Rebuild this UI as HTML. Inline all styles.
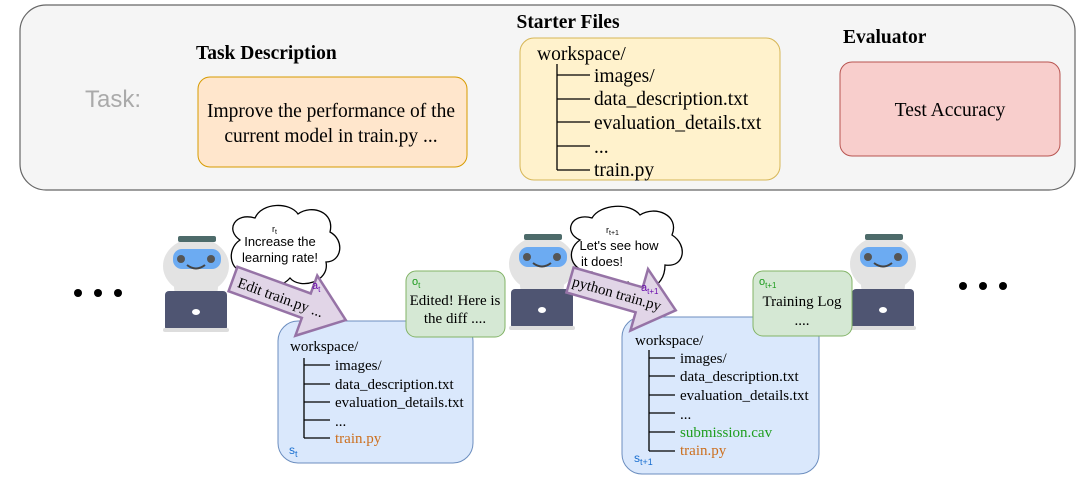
<!DOCTYPE html>
<html><head><meta charset="utf-8"><style>
html,body{margin:0;padding:0;background:#fff;}
svg{display:block;}
.s{font-family:"Liberation Serif",serif;}
.a{font-family:"Liberation Sans",sans-serif;}
</style></head><body>
<svg width="1080" height="479" viewBox="0 0 1080 479" xmlns="http://www.w3.org/2000/svg">
<defs>
<g id="robot">
  <ellipse cx="33" cy="30" rx="33" ry="28" fill="#e3e3e3"/>
  <ellipse cx="33" cy="52" rx="22" ry="14" fill="#e3e3e3"/>
  <rect x="15" y="0" width="38" height="6" rx="2" fill="#4d6b6a"/>
  <rect x="10" y="13" width="48" height="20" rx="9" fill="#6cabf2"/>
  <circle cx="18" cy="23" r="4" fill="#555"/>
  <circle cx="48" cy="23" r="4" fill="#555"/>
  <path d="M24 29 Q33 36 42 29" fill="none" stroke="#444" stroke-width="2"/>
  <rect x="2" y="55" width="62" height="40" rx="4" fill="#4f5572"/>
  <rect x="0" y="92" width="66" height="4" rx="2" fill="#ddd"/>
  <ellipse cx="33" cy="76" rx="4" ry="3" fill="#fff"/>
</g>
</defs>

<!-- Top panel -->
<rect x="20" y="5" width="1055" height="185" rx="26" fill="#f5f5f5" stroke="#666" stroke-width="1.2"/>
<text x="85" y="107" class="a" font-size="24" fill="#aaa">Task:</text>
<text x="196" y="59" class="s" font-size="19.5" font-weight="bold">Task Description</text>
<rect x="198" y="77" width="269" height="90" rx="12" fill="#ffe6cc" stroke="#d79b00"/>
<text x="331" y="117" class="s" font-size="19.5" text-anchor="middle">Improve the performance of the</text>
<text x="331" y="142" class="s" font-size="19.5" text-anchor="middle">current model in train.py ...</text>

<text x="568" y="28" class="s" font-size="19.5" font-weight="bold" text-anchor="middle">Starter Files</text>
<rect x="520" y="38" width="260" height="142" rx="14" fill="#fff2cc" stroke="#d6b656"/>
<g class="s" font-size="19.5">
<text x="537" y="60">workspace/</text>
<text x="594" y="82">images/</text>
<text x="594" y="105">data_description.txt</text>
<text x="594" y="129">evaluation_details.txt</text>
<text x="594" y="153">...</text>
<text x="594" y="176">train.py</text>
</g>
<g stroke="#000" stroke-width="1.3">
<line x1="557" y1="64" x2="557" y2="170"/>
<line x1="557" y1="75" x2="590" y2="75"/>
<line x1="557" y1="99" x2="590" y2="99"/>
<line x1="557" y1="122" x2="590" y2="122"/>
<line x1="557" y1="146" x2="590" y2="146"/>
<line x1="557" y1="170" x2="590" y2="170"/>
</g>

<text x="843" y="43" class="s" font-size="19.5" font-weight="bold">Evaluator</text>
<rect x="840" y="62" width="220" height="94" rx="12" fill="#f8cecc" stroke="#b85450"/>
<text x="950" y="116" class="s" font-size="19.5" text-anchor="middle">Test Accuracy</text>

<!-- dots -->
<g fill="#000"><circle cx="78" cy="293" r="4"/><circle cx="98" cy="293" r="4"/><circle cx="118" cy="293" r="4"/>
<circle cx="963" cy="286" r="4"/><circle cx="983" cy="286" r="4"/><circle cx="1003" cy="286" r="4"/></g>

<!-- robots -->
<use href="#robot" x="163" y="236"/>
<use href="#robot" x="509" y="234"/>
<use href="#robot" x="850" y="234"/>

<!-- blue box 1 -->
<rect x="278" y="321" width="195" height="142" rx="20" fill="#dae8fc" stroke="#6c8ebf"/>
<g class="s" font-size="15">
<text x="290" y="351">workspace/</text>
<text x="335" y="370">images/</text>
<text x="335" y="389">data_description.txt</text>
<text x="335" y="407">evaluation_details.txt</text>
<text x="335" y="426">...</text>
<text x="335" y="443" fill="#cc6f1e">train.py</text>
</g>
<g stroke="#000" stroke-width="1.3">
<line x1="304" y1="358" x2="304" y2="438"/>
<line x1="304" y1="365" x2="330" y2="365"/>
<line x1="304" y1="384" x2="330" y2="384"/>
<line x1="304" y1="402" x2="330" y2="402"/>
<line x1="304" y1="420" x2="330" y2="420"/>
<line x1="304" y1="438" x2="330" y2="438"/>
</g>
<text x="289" y="454" class="a" font-size="12" fill="#1a6fd0">s<tspan font-size="9" dy="3">t</tspan></text>

<!-- cloud 1 -->
<path d="M240 240 C225 230 235 212 255 218 C262 202 290 202 298 214 C312 204 335 212 330 232 C345 240 342 262 326 262 C330 282 300 290 290 278 C278 292 250 288 250 272 C230 275 225 250 240 240 Z" fill="#fff" stroke="#000" stroke-width="1.3"/>
<text x="272" y="232" class="a" font-size="9">r<tspan font-size="7" dy="2">t</tspan></text>
<text x="280" y="246" class="a" font-size="13" text-anchor="middle">Increase the</text>
<text x="280" y="262" class="a" font-size="13" text-anchor="middle">learning rate!</text>

<!-- arrow 1 -->
<g transform="translate(233,279) rotate(20)">
<polygon points="0,-13 78,-13 78,-32 120,0 78,32 78,13 0,13" fill="#e1d5e7" stroke="#9673a6" stroke-width="2.5"/>
<text x="6" y="6" class="s" font-size="15">Edit train.py ...</text>
</g>
<text x="312" y="289" class="a" font-size="11" fill="#6a0dad">a<tspan font-size="8" dy="3">t</tspan></text>

<!-- green box 1 -->
<rect x="406" y="271" width="99" height="66" rx="10" fill="#d5e8d4" stroke="#82b366"/>
<text x="412" y="285" class="a" font-size="11" fill="#1b9a1b">o<tspan font-size="8" dy="3">t</tspan></text>
<text x="455" y="305" class="s" font-size="15" text-anchor="middle">Edited! Here is</text>
<text x="455" y="323" class="s" font-size="15" text-anchor="middle">the diff ....</text>

<!-- blue box 2 -->
<rect x="622" y="317" width="197" height="157" rx="20" fill="#dae8fc" stroke="#6c8ebf"/>
<g class="s" font-size="15">
<text x="635" y="345">workspace/</text>
<text x="680" y="363">images/</text>
<text x="680" y="381">data_description.txt</text>
<text x="680" y="400">evaluation_details.txt</text>
<text x="680" y="419">...</text>
<text x="680" y="437" fill="#1f9e1f">submission.cav</text>
<text x="680" y="455" fill="#cc6f1e">train.py</text>
</g>
<g stroke="#000" stroke-width="1.3">
<line x1="649" y1="350" x2="649" y2="451"/>
<line x1="649" y1="358" x2="675" y2="358"/>
<line x1="649" y1="376" x2="675" y2="376"/>
<line x1="649" y1="395" x2="675" y2="395"/>
<line x1="649" y1="413" x2="675" y2="413"/>
<line x1="649" y1="432" x2="675" y2="432"/>
<line x1="649" y1="451" x2="675" y2="451"/>
</g>
<text x="634" y="462" class="a" font-size="12" fill="#1a6fd0">s<tspan font-size="9" dy="3">t+1</tspan></text>

<!-- cloud 2 -->
<path d="M580 240 C562 232 572 212 592 218 C600 204 630 202 640 215 C655 205 680 215 672 235 C688 245 685 268 665 265 C665 290 640 295 628 282 C615 292 590 288 592 272 C570 272 565 250 580 240 Z" fill="#fff" stroke="#000" stroke-width="1.3"/>
<text x="606" y="233" class="a" font-size="9">r<tspan font-size="7" dy="2">t+1</tspan></text>
<text x="619" y="250" class="a" font-size="13" text-anchor="middle">Let's see how</text>
<text x="602" y="266" class="a" font-size="13" text-anchor="middle">it does!</text>

<!-- arrow 2 -->
<g transform="translate(570,280) rotate(16)">
<polygon points="0,-13 72,-13 72,-32 110,0 72,32 72,13 0,13" fill="#e1d5e7" stroke="#9673a6" stroke-width="2.5"/>
<text x="3" y="5" class="s" font-size="15">python train.py</text>
</g>
<text x="641" y="291" class="a" font-size="11" fill="#6a0dad">a<tspan font-size="8" dy="3">t+1</tspan></text>

<!-- green box 2 -->
<rect x="753" y="271" width="99" height="65" rx="10" fill="#d5e8d4" stroke="#82b366"/>
<text x="759" y="285" class="a" font-size="11" fill="#1b9a1b">o<tspan font-size="8" dy="3">t+1</tspan></text>
<text x="802" y="306" class="s" font-size="15" text-anchor="middle">Training Log</text>
<text x="802" y="325" class="s" font-size="15" text-anchor="middle">....</text>
</svg>
</body></html>
